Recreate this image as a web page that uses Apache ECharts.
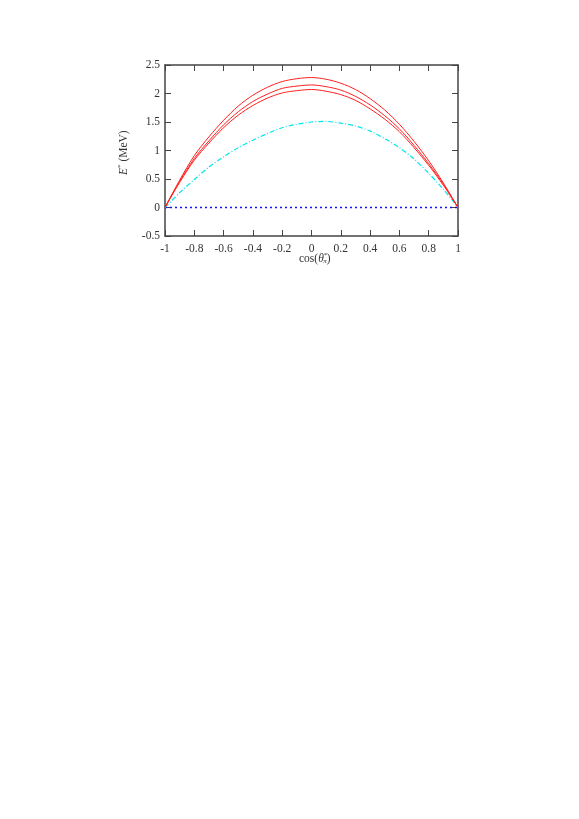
<!DOCTYPE html>
<html>
<head>
<meta charset="utf-8">
<script src="https://cdn.jsdelivr.net/npm/echarts@6/dist/echarts.min.js"></script>
<style>
html,body{margin:0;padding:0;background:#fff;}
#chart{width:579px;height:819px;}
</style>
</head>
<body>
<div id="chart"></div>
<script>
const xValues = [-1,-0.9,-0.8,-0.7,-0.6,-0.5,-0.4,-0.3,-0.2,-0.1,0,0.1,0.2,0.3,0.4,0.5,0.6,0.7,0.8,0.9,1];
const redTop  = [0,0.48,0.91,1.24,1.53,1.78,1.97,2.11,2.21,2.26,2.28,2.25,2.18,2.07,1.91,1.71,1.46,1.16,0.82,0.43,0];
const redMid  = [0,0.46,0.86,1.17,1.45,1.68,1.86,1.99,2.09,2.13,2.15,2.12,2.06,1.95,1.80,1.61,1.38,1.09,0.77,0.41,0];
const redBot  = [0,0.44,0.83,1.13,1.40,1.62,1.79,1.92,2.01,2.05,2.07,2.04,1.98,1.88,1.73,1.55,1.33,1.05,0.74,0.39,0];
const cyanCurve = [0,0.26,0.49,0.71,0.89,1.05,1.18,1.30,1.40,1.46,1.50,1.51,1.48,1.43,1.34,1.21,1.05,0.85,0.60,0.32,0];
const zeroLine = [0,0,0,0,0,0,0,0,0,0,0,0,0,0,0,0,0,0,0,0,0];
const xTicks = {min:-1, max:1, interval:0.2};
const yTicks = {min:-0.5, max:2.5, interval:0.5};

const pairs = ys => xValues.map((x,i)=>[x, ys[i]]);
const font = 'Liberation Serif';
const axisCol = '#444';

const chart = echarts.init(document.getElementById('chart'), null, {renderer:'canvas'});
const baseAxis = (pos, showLabel, interval, min, max) => ({
  type:'value', position:pos, min:min, max:max, interval:interval,
  axisLine:{show:true, onZero:false, lineStyle:{color:axisCol, width:1.5}},
  axisTick:{show:true, inside:true, length:6, lineStyle:{color:axisCol, width:1}},
  axisLabel:showLabel ? {color:'#333', fontFamily:font, fontSize:11.5, margin:(pos==='bottom'?7:5)} : {show:false},
  splitLine:{show:false}
});

chart.setOption({
  animation:false,
  backgroundColor:'#fff',
  grid:{left:165, right:121, top:65, bottom:583},
  xAxis:[
    baseAxis('bottom', true, xTicks.interval, xTicks.min, xTicks.max),
    baseAxis('top', false, xTicks.interval, xTicks.min, xTicks.max)
  ],
  yAxis:[
    baseAxis('left', true, yTicks.interval, yTicks.min, yTicks.max),
    baseAxis('right', false, yTicks.interval, yTicks.min, yTicks.max)
  ],
  series:[
    {type:'line', data:pairs(zeroLine), showSymbol:false, lineStyle:{color:'#1010ff', width:1.5, type:[2,3]}},
    {type:'line', data:pairs(cyanCurve), showSymbol:false, smooth:0.3, lineStyle:{color:'#00e5ee', width:1.2, type:[5,2,1,2]}},
    {type:'line', data:pairs(redBot), showSymbol:false, smooth:0.3, lineStyle:{color:'#ff2020', width:1}},
    {type:'line', data:pairs(redMid), showSymbol:false, smooth:0.3, lineStyle:{color:'#ff2020', width:1}},
    {type:'line', data:pairs(redTop), showSymbol:false, smooth:0.3, lineStyle:{color:'#ff2020', width:1}}
  ],
  graphic:[
    {type:'text', x:299, y:252, style:{
      text:'cos({it|θ}{sup|*}{sub|π})',
      fontFamily:font, fontSize:11.5, fill:'#333',
      rich:{
        it:{fontFamily:font, fontStyle:'italic', fontSize:11.5, fill:'#333'},
        sup:{fontFamily:font, fontSize:7, fill:'#333', verticalAlign:'top', padding:[0,0,6,0]},
        sub:{fontFamily:font, fontStyle:'italic', fontSize:7, fill:'#333', padding:[6,0,0,-4]}
      }}},
    {type:'text', x:117, y:175, rotation:Math.PI/2, style:{
      text:'{it|E}{sup|*} (MeV)',
      fontFamily:font, fontSize:11.5, fill:'#333',
      rich:{
        it:{fontFamily:font, fontStyle:'italic', fontSize:11.5, fill:'#333'},
        sup:{fontFamily:font, fontSize:7, fill:'#333', padding:[0,0,6,0]}
      }}}
  ]
});
</script>
</body>
</html>
